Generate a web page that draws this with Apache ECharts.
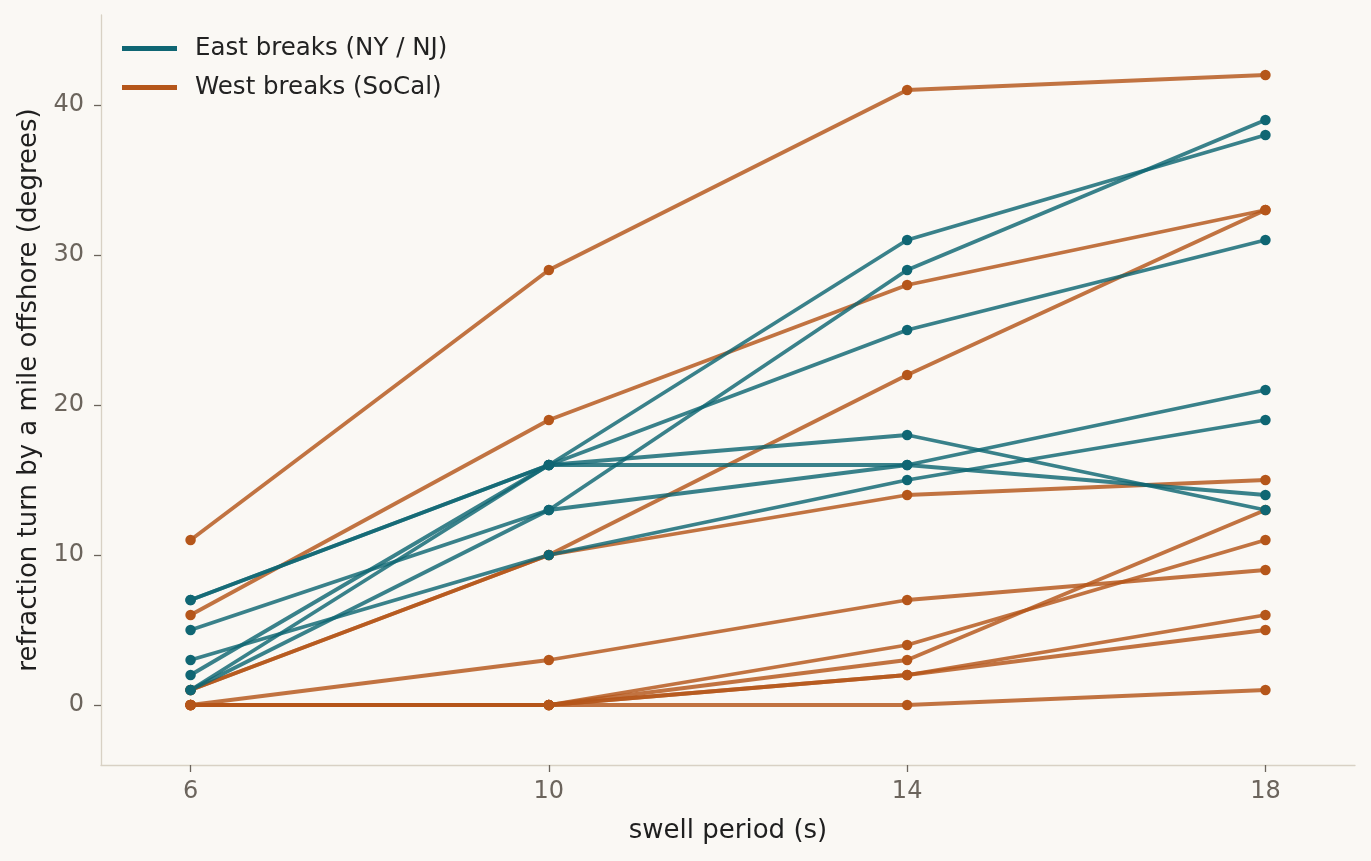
<!DOCTYPE html>
<html>
<head>
<meta charset="utf-8">
<script src="https://cdn.jsdelivr.net/npm/echarts@6/dist/echarts.min.js"></script>
<style>
html,body{margin:0;padding:0;background:#faf8f4;}
#chart{width:1371px;height:861px;}
</style>
</head>
<body>
<div id="chart"></div>
<script>
var periods = [6, 10, 14, 18];
var xTicks = [6, 10, 14, 18];
var yTicks = [0, 10, 20, 30, 40];

var eastName = 'East breaks (NY / NJ)';
var westName = 'West breaks (SoCal)';

var east1 = [7, 16, 31, 38];
var east2 = [7, 16, 25, 31];
var east3 = [2, 16, 18, 13];
var east4 = [1, 16, 16, 21];
var east5 = [5, 13, 29, 39];
var east6 = [1, 13, 16, 14];
var east7 = [3, 10, 15, 19];

var west1 = [11, 29, 41, 42];
var west2 = [6, 19, 28, 33];
var west3 = [1, 10, 22, 33];
var west4 = [1, 10, 14, 15];
var west5 = [0, 3, 7, 9];
var west6 = [0, 0, 4, 11];
var west7 = [0, 0, 3, 13];
var west8 = [0, 0, 2, 6];
var west9 = [0, 0, 2, 5];
var west10 = [0, 0, 0, 1];

var eastLines = [east1, east2, east3, east4, east5, east6, east7];
var westLines = [west1, west2, west3, west4, west5, west6, west7, west8, west9, west10];

var eastColor = '#0f6673';
var westColor = '#b5561a';

function mk(name, color, vals) {
  return {
    name: name,
    type: 'line',
    data: periods.map(function (p, i) { return [p, vals[i]]; }),
    symbol: 'circle',
    symbolSize: 10.5,
    color: color,
    itemStyle: { color: color, opacity: 1 },
    lineStyle: { color: color, width: 3.8, opacity: 0.82 },
    emphasis: { disabled: true },
    animation: false,
    z: 2
  };
}

var series = [];
westLines.forEach(function (v) { series.push(mk(westName, westColor, v)); });
eastLines.forEach(function (v) { series.push(mk(eastName, eastColor, v)); });

var chart = echarts.init(document.getElementById('chart'));
chart.setOption({
  backgroundColor: '#faf8f4',
  animation: false,
  textStyle: { fontFamily: 'DejaVu Sans' },
  grid: { left: 101, right: 16, top: 15, bottom: 96 },
  legend: {
    data: [eastName, westName],
    orient: 'vertical',
    left: 122,
    top: 36,
    padding: 0,
    icon: 'rect',
    itemWidth: 55,
    itemHeight: 5,
    itemGap: 14,
    textStyle: { fontSize: 24.5, color: '#222222', fontFamily: 'DejaVu Sans', padding: [0, 0, 0, 13] }
  },
  xAxis: {
    type: 'value',
    min: 5,
    max: 19,
    name: 'swell period (s)',
    nameLocation: 'middle',
    nameGap: 53,
    nameTextStyle: { fontSize: 26, color: '#1f1f1f', fontFamily: 'DejaVu Sans' },
    splitLine: { show: false },
    axisLine: { show: true, onZero: false, lineStyle: { color: '#d8d1c4', width: 1.3 } },
    axisTick: { show: true, customValues: xTicks, length: 7, lineStyle: { color: '#6b645c', width: 1.3 } },
    axisLabel: { customValues: xTicks, fontSize: 24, color: '#6b645c', margin: 15, fontFamily: 'DejaVu Sans' }
  },
  yAxis: {
    type: 'value',
    min: -4,
    max: 46,
    name: 'refraction turn by a mile offshore (degrees)',
    nameLocation: 'middle',
    nameGap: 58,
    nameTextStyle: { fontSize: 26, color: '#1f1f1f', fontFamily: 'DejaVu Sans' },
    splitLine: { show: false },
    axisLine: { show: true, onZero: false, lineStyle: { color: '#d8d1c4', width: 1.3 } },
    axisTick: { show: true, customValues: yTicks, length: 7, lineStyle: { color: '#6b645c', width: 1.3 } },
    axisLabel: { customValues: yTicks, fontSize: 24, color: '#6b645c', margin: 17, fontFamily: 'DejaVu Sans' }
  },
  series: series
});
</script>
</body>
</html>
